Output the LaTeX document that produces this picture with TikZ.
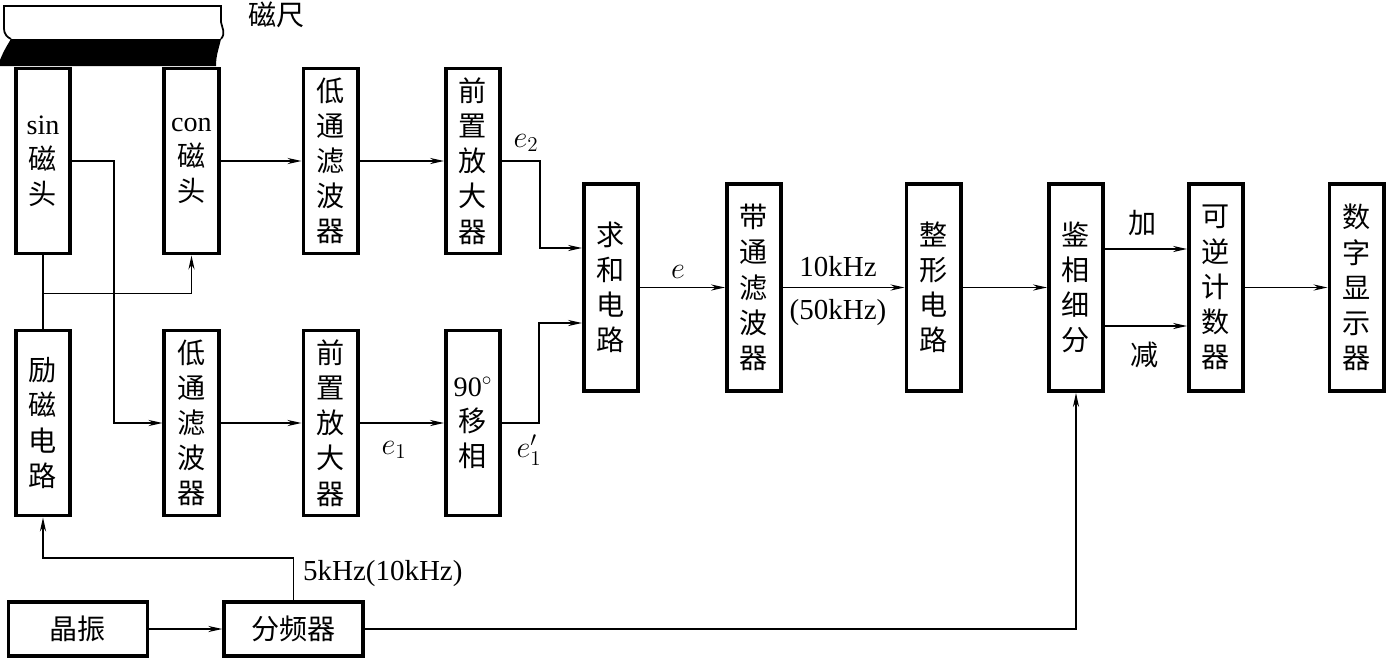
\documentclass[tikz,border=0pt]{standalone}
\usepackage{fontspec}
\setmainfont{Liberation Serif}
\newfontfamily\cjk{Noto Sans CJK SC}
\usepackage{tikz}
\usetikzlibrary{arrows.meta,calc}
\tikzstyle{blk}=[draw, line width=2pt, inner sep=0pt, align=center, minimum width=1.09cm, minimum height=3.71cm, font=\cjk\fontsize{16}{20}\selectfont]
\tikzstyle{tall}=[blk, minimum height=4.15cm]
\tikzstyle{wide}=[blk, minimum width=2.78cm, minimum height=1.09cm]
\tikzstyle{wire}=[line width=0.8pt]
\tikzstyle{arr}=[wire, -{Stealth[length=8pt,width=3.5pt]}]
\tikzstyle{lbl}=[font=\fontsize{16.5}{19}\selectfont, inner sep=1pt]
\tikzstyle{hz}=[font=\cjk\fontsize{16}{19}\selectfont, inner sep=1pt]

\begin{document}
\begin{tikzpicture}[x=0.02cm, y=-0.02cm]
    \useasboundingbox (0,0) rectangle (1387,660);
    % the magnetic scale
    \fill (11,39) -- (221,39) .. controls (219,48) and (216,55) .. (216,66) -- (0,66) -- (0,60) .. controls (4,50) and (8,44) .. (11,39) -- cycle;
    \draw[line width=1pt] (11,39) .. controls (3,35) and (4,30) .. (4,24) -- (4,6) -- (221,6) -- (221,22) .. controls (222,28) and (226,33) .. (221,39);
    \node[hz, anchor=west] (scale) at (246,15) {磁尺};

    % heads and upper channel
    \node[blk] (sinhead) at (43,161) {\textrm{sin}\\磁\\头};
    \node[blk] (conhead) at (191.5,161) {\textrm{con}\\磁\\头};
    \node[blk] (lpfa) at (330.5,161) {低\\通\\滤\\波\\器};
    \node[blk] (ampa) at (473,161) {前\\置\\放\\大\\器};

    % excitation and lower channel
    \node[blk] (excite) at (43,423) {励\\磁\\电\\路};
    \node[blk] (lpfb) at (191.5,423) {低\\通\\滤\\波\\器};
    \node[blk] (ampb) at (330.5,423) {前\\置\\放\\大\\器};
    \node[blk] (shift) at (473,423) {\textrm{90}$^{\circ}$\\移\\相};

    % main chain
    \node[tall] (sum) at (611,287.5) {求\\和\\电\\路};
    \node[tall] (bpf) at (754,287.5) {带\\通\\滤\\波\\器};
    \node[tall] (shaper) at (933.5,287.5) {整\\形\\电\\路};
    \node[tall] (phase) at (1076,287.5) {鉴\\相\\细\\分};
    \node[tall] (counter) at (1216,287.5) {可\\逆\\计\\数\\器};
    \node[tall] (display) at (1356.5,287.5) {数\\字\\显\\示\\器};

    % oscillator
    \node[wide] (osc) at (78,629) {晶振};
    \node[wide] (divider) at (293.5,629) {分频器};

    % straight arrows, using a loop
    \foreach \a/\b in {conhead/lpfa, lpfa/ampa, lpfb/ampb, ampb/shift, sum/bpf, bpf/shaper, shaper/phase, counter/display, osc/divider}{
      \draw[arr] (\a) -- (\b);
    }

    % both channels into the sum
    \draw[arr] (ampa.east) -- ++(38,0) |- ($(sum.west)+(0,-39.5)$);
    \draw[arr] (shift.east) -- ++(37,0) |- ($(sum.west)+(0,35.5)$);

    % up and down counts
    \draw[arr] ($(phase.east)+(0,-38.5)$) -- ($(counter.west)+(0,-38.5)$);
    \draw[arr] ($(phase.east)+(0,38.5)$) -- ($(counter.west)+(0,38.5)$);

    % reference signal
    \draw[arr] (divider.east) -| (phase.south);
    \draw[arr] (divider.north) -- ++(0,-42) -| (excite.south);

    % head wiring
    \draw[wire] (sinhead.south) -- (excite.north);
    \coordinate (tap) at ($(sinhead.south)+(0,38)$);
    \draw[arr] (tap) -| (conhead.south);
    \draw[arr] (sinhead.east) -- ++(42,0) |- (lpfb.west);

    % labels
    \node[lbl] (e2) at (526,143) {$e_2$};
    \node[lbl] (e1) at (394,450) {$e_1$};
    \node[lbl] (e1p) at (529,450) {$e_1'$};
    \node[lbl] (e) at (678,272) {$e$};
    \node[lbl] (hia) at (838,267) {10kHz};
    \node[lbl] (hib) at (838,313) {(50kHz)};
    \node[hz] (up) at (1143,223) {加};
    \node[hz] (down) at (1145,355) {减};
    \node[lbl, anchor=west] (freq) at (301,574) {5kHz(10kHz)};
  \end{tikzpicture}
\end{document}
